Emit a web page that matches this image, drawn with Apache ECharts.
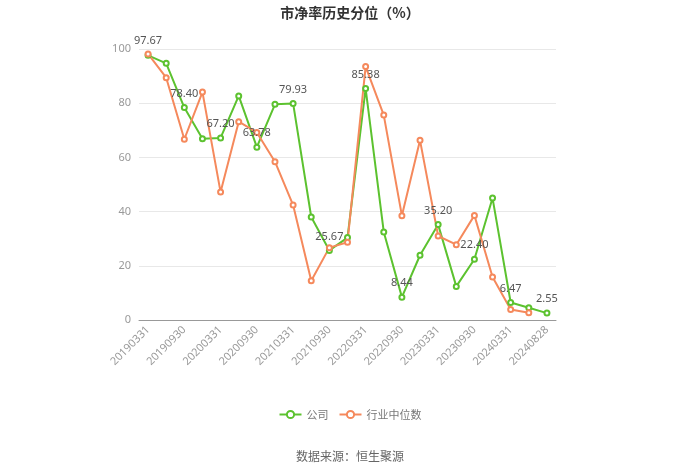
<!DOCTYPE html>
<html>
<head>
<meta charset="utf-8">
<script src="https://cdn.jsdelivr.net/npm/echarts@6/dist/echarts.min.js"></script>
<style>html,body{margin:0;padding:0;background:#fff}#c{width:700px;height:474px}</style>
</head>
<body>
<div id="c"></div>
<script>
var categories = ['20190331','20190630','20190930','20191231','20200331','20200630','20200930','20201231','20210331','20210630','20210930','20211231','20220331','20220630','20220930','20221231','20230331','20230630','20230930','20231231','20240331','20240630','20240828'];
var companyValues = [97.67,94.7,78.40,66.9,67.20,82.7,63.78,79.6,79.93,38.0,25.67,30.4,85.38,32.5,8.44,23.9,35.20,12.4,22.40,45.0,6.47,4.5,2.55];
var industryValues = [98.2,89.4,66.7,84.1,47.2,73.2,69.2,58.4,42.4,14.5,26.7,28.7,93.5,75.6,38.5,66.3,31.0,27.8,38.6,15.9,3.9,2.7,null];
var yTicks = [0,20,40,60,80,100];

var chart = echarts.init(document.getElementById('c'));
chart.setOption({
  animation: false,
  title: {
    text: '市净率历史分位（%）',
    left: 'center', top: 1,
    textStyle: {fontSize: 14, fontWeight: 'bold', color: '#333', fontFamily: 'Noto Sans CJK SC'}
  },
  legend: {
    bottom: 49, left: 'center',
    itemWidth: 22, itemHeight: 9, itemGap: 10,
    textStyle: {color: '#777', fontSize: 11, fontFamily: 'Noto Sans CJK SC'},
    data: ['公司','行业中位数']
  },
  graphic: [{
    type: 'text', left: 'center', top: 450,
    style: {text: '数据来源：恒生聚源', fill: '#666', fontSize: 12, fontFamily: 'Noto Sans CJK SC'}
  }],
  grid: {left: 139, right: 144, top: 49, bottom: 154},
  xAxis: {
    type: 'category', data: categories, boundaryGap: true,
    axisLine: {lineStyle: {color: '#999'}},
    axisTick: {alignWithLabel: true, interval: 1, lineStyle: {color: '#999'}},
    axisLabel: {interval: 1, rotate: 45, color: '#999', fontSize: 11, fontFamily: 'Noto Sans'}
  },
  yAxis: {
    type: 'value', min: yTicks[0], max: yTicks[yTicks.length-1], interval: 20,
    axisLine: {show: false}, axisTick: {show: false},
    axisLabel: {color: '#999', fontSize: 11, fontFamily: 'Noto Sans'},
    splitLine: {lineStyle: {color: '#e8e8e8'}}
  },
  series: [{
    name: '公司', type: 'line', data: companyValues,
    symbol: 'emptyCircle', symbolSize: 5,
    itemStyle: {color: '#5cc22f'}, lineStyle: {width: 2, color: '#5cc22f'},
    label: {
      show: true, position: 'top', color: '#555', fontSize: 11, fontFamily: 'Noto Sans',
      formatter: function(p){ return p.dataIndex % 2 === 0 ? p.value.toFixed(2) : ''; }
    }
  },{
    name: '行业中位数', type: 'line', data: industryValues,
    symbol: 'emptyCircle', symbolSize: 5,
    itemStyle: {color: '#f5895c'}, lineStyle: {width: 2, color: '#f5895c'}
  }]
});
</script>
</body>
</html>
